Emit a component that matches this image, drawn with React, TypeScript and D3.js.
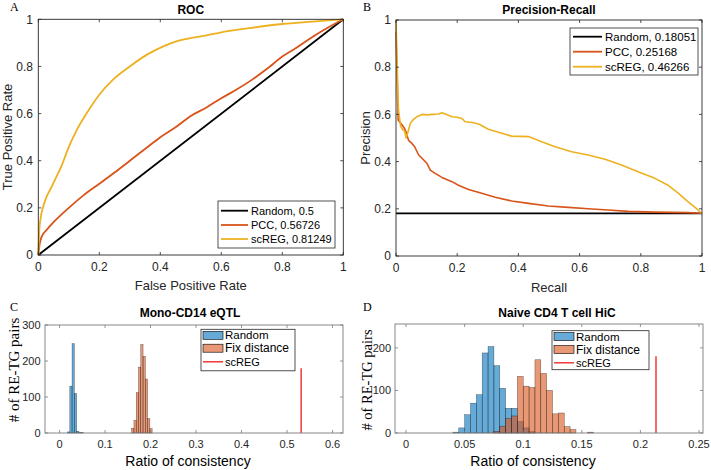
import React from "react";
import * as d3 from "d3";

// ---------- DATA ----------
const rocTicks = [0, 0.2, 0.4, 0.6, 0.8, 1];
const rocTickLabels = ["0", "0.2", "0.4", "0.6", "0.8", "1"];

const rocRandom: [number, number][] = [[0, 0], [1, 1]];
const rocPCC: [number, number][] = [
  [0, 0], [0.005, 0.05], [0.011, 0.078], [0.027, 0.106], [0.05, 0.14], [0.066, 0.16], [0.1, 0.2],
  [0.15, 0.255], [0.2, 0.302], [0.25, 0.35], [0.3, 0.4], [0.35, 0.45], [0.4, 0.5], [0.45, 0.542],
  [0.5, 0.59], [0.55, 0.625], [0.6, 0.665], [0.65, 0.702], [0.7, 0.743], [0.75, 0.79], [0.8, 0.842],
  [0.85, 0.882], [0.9, 0.926], [0.95, 0.965], [1, 1],
];
const rocScREG: [number, number][] = [
  [0, 0], [0.003, 0.1], [0.008, 0.16], [0.015, 0.2], [0.025, 0.24], [0.04, 0.28], [0.055, 0.32],
  [0.077, 0.38], [0.09, 0.425], [0.104, 0.47], [0.126, 0.53], [0.158, 0.6], [0.2, 0.68],
  [0.246, 0.745], [0.3, 0.8], [0.355, 0.849], [0.41, 0.885], [0.45, 0.905], [0.5, 0.92],
  [0.552, 0.932], [0.6, 0.945], [0.7, 0.964], [0.8, 0.98], [0.9, 0.99], [1, 1],
];
const rocLegend = ["Random, 0.5", "PCC, 0.56726", "scREG, 0.81249"];

const prRandomValue = 0.18051;
const prPCC: [number, number][] = [
  [0, 0.95], [0.003, 0.8], [0.007, 0.576], [0.02, 0.555], [0.028, 0.54], [0.033, 0.525], [0.041, 0.49],
  [0.052, 0.477], [0.061, 0.463], [0.074, 0.428], [0.085, 0.414], [0.101, 0.393], [0.112, 0.364],
  [0.128, 0.35], [0.15, 0.333], [0.183, 0.315], [0.204, 0.3], [0.237, 0.282], [0.28, 0.266],
  [0.324, 0.249], [0.378, 0.233], [0.433, 0.223], [0.498, 0.212], [0.563, 0.206], [0.628, 0.2],
  [0.693, 0.195], [0.759, 0.189], [0.846, 0.186], [0.954, 0.184], [1, 0.181],
];
const prScREG: [number, number][] = [
  [0, 1], [0.004, 0.8], [0.008, 0.62], [0.015, 0.55], [0.022, 0.535], [0.028, 0.53], [0.033, 0.5],
  [0.04, 0.53], [0.047, 0.562], [0.058, 0.58], [0.068, 0.59], [0.085, 0.6], [0.1, 0.598], [0.12, 0.6],
  [0.14, 0.602], [0.15, 0.607], [0.165, 0.6], [0.183, 0.59], [0.2, 0.588], [0.215, 0.583],
  [0.226, 0.569], [0.25, 0.566], [0.27, 0.559], [0.302, 0.537], [0.346, 0.52], [0.378, 0.508],
  [0.433, 0.506], [0.476, 0.484], [0.52, 0.463], [0.574, 0.442], [0.628, 0.428], [0.683, 0.41],
  [0.737, 0.386], [0.791, 0.357], [0.846, 0.329], [0.889, 0.3], [0.922, 0.266], [0.954, 0.23],
  [0.987, 0.195], [1, 0.18],
];
const prLegend = ["Random, 0.18051", "PCC, 0.25168", "scREG, 0.46266"];

// Panel C histograms (bin start, count), bin width 0.005
const cBinWidth = 0.005;
const cRandomBins = [0.0175, 0.0225, 0.0275, 0.0325, 0.0375, 0.0425, 0.0475];
const cRandomCounts = [3, 130, 248, 110, 5, 2, 1];
const cFixBins = [0.1585, 0.1635, 0.1685, 0.1735, 0.1785, 0.1835, 0.1885, 0.1935, 0.1985];
const cFixCounts = [13, 35, 112, 183, 246, 213, 150, 40, 12];
const cScREG = 0.531;
const cScREGHeight = 180;
const cTicksX = [0, 0.1, 0.2, 0.3, 0.4, 0.5, 0.6];
const cTickLabelsX = ["0", "0.1", "0.2", "0.3", "0.4", "0.5", "0.6"];
const cTicksY = [0, 100, 200, 300];

// Panel D histograms
const dBinWidth = 0.005;
const dRandomBins = [0.04, 0.045, 0.05, 0.055, 0.06, 0.065, 0.07, 0.075, 0.08, 0.085, 0.09, 0.095, 0.1, 0.105];
const dRandomCounts = [2, 12, 43, 70, 90, 188, 203, 158, 105, 58, 58, 27, 12, 3];
const dFixBins = [0.075, 0.08, 0.085, 0.09, 0.095, 0.1, 0.105, 0.11, 0.115, 0.12, 0.125, 0.13, 0.135, 0.14, 0.145, 0.15, 0.155];
const dFixCounts = [4, 16, 34, 40, 133, 110, 107, 172, 140, 100, 45, 47, 15, 8, 0, 0, 2];
const dScREG = 0.2133;
const dScREGHeight = 180;
const dTicksX = [0, 0.05, 0.1, 0.15, 0.2, 0.25];
const dTickLabelsX = ["0", "0.05", "0.1", "0.15", "0.2", "0.25"];
const dTicksY = [0, 100, 200];

const histLegend = ["Random", "Fix distance", "scREG"];

// ---------- STYLE ----------
const BLACK = "#000000";
const ORANGE = "#D95319";
const YELLOW = "#EDB120";
const BLUE = "#0072BD";
const RED = "#ee2b2b";
const AXIS = "#262626";
const SANS = "'Liberation Sans', Arial, Helvetica, sans-serif";
const SERIF = "'Liberation Serif', 'Times New Roman', serif";

type Scale = d3.ScaleLinear<number, number>;

function Frame({ x, y, ticksX, ticksY, labelsX, labelsY, fontSize, stroke, labelColor, xLabelY, yLabelX }: {
  x: Scale; y: Scale; ticksX: number[]; ticksY: number[]; labelsX: string[]; labelsY: string[];
  fontSize: number; stroke: string; labelColor: string; xLabelY: number; yLabelX: number;
}) {
  const [x0, x1] = x.range();
  const [y0, y1] = y.range();
  const tl = 3;
  return (
    <g>
      {ticksX.map((t, i) => (
        <g key={"x" + i}>
          <line x1={x(t)} x2={x(t)} y1={y0} y2={y0 - tl} stroke={stroke} strokeWidth={0.8} />
          <line x1={x(t)} x2={x(t)} y1={y1} y2={y1 + tl} stroke={stroke} strokeWidth={0.8} />
          <text x={x(t)} y={xLabelY} textAnchor="middle" fontSize={fontSize} fill={labelColor} fontFamily={SANS}>{labelsX[i]}</text>
        </g>
      ))}
      {ticksY.map((t, i) => (
        <g key={"y" + i}>
          <line x1={x0} x2={x0 + tl} y1={y(t)} y2={y(t)} stroke={stroke} strokeWidth={0.8} />
          <line x1={x1} x2={x1 - tl} y1={y(t)} y2={y(t)} stroke={stroke} strokeWidth={0.8} />
          <text x={yLabelX} y={y(t)} dy="0.35em" textAnchor="end" fontSize={fontSize} fill={labelColor} fontFamily={SANS}>{labelsY[i]}</text>
        </g>
      ))}
      <rect x={x0} y={y1} width={x1 - x0} height={y0 - y1} fill="none" stroke={stroke} strokeWidth={0.9} />
    </g>
  );
}

function LineLegend({ x, y, w, h, rowYs, labels, colors, fontSize, lineLen }: {
  x: number; y: number; w: number; h: number; rowYs: number[]; labels: string[]; colors: string[]; fontSize: number; lineLen: number;
}) {
  return (
    <g>
      <rect x={x} y={y} width={w} height={h} fill="#fff" stroke={AXIS} strokeWidth={0.8} />
      {labels.map((l, i) => (
        <g key={i}>
          <line x1={x + 3} x2={x + 3 + lineLen} y1={rowYs[i]} y2={rowYs[i]} stroke={colors[i]} strokeWidth={1.8} />
          <text x={x + 6 + lineLen} y={rowYs[i]} dy="0.35em" fontSize={fontSize} fontFamily={SANS} fill="#000">{l}</text>
        </g>
      ))}
    </g>
  );
}

function Hist({ x, y, bins, counts, width, color }: { x: Scale; y: Scale; bins: number[]; counts: number[]; width: number; color: string }) {
  return (
    <g>
      {bins.map((b, i) => counts[i] > 0 ? (
        <rect key={i} x={x(b)} y={y(counts[i])} width={x(b + width) - x(b)} height={y(0) - y(counts[i])}
          fill={color} fillOpacity={0.6} stroke="#000" strokeOpacity={0.55} strokeWidth={0.5} />
      ) : null)}
    </g>
  );
}

function HistLegend({ x, y, w, h, rowYs, patchW }: { x: number; y: number; w: number; h: number; rowYs: number[]; patchW: number }) {
  const colors = [BLUE, ORANGE];
  return (
    <g>
      <rect x={x} y={y} width={w} height={h} fill="#fff" stroke={AXIS} strokeWidth={0.8} />
      {[0, 1].map(i => (
        <rect key={i} x={x + 2} y={rowYs[i] - 4} width={patchW} height={8} fill={colors[i]} fillOpacity={0.6} stroke="#000" strokeWidth={0.6} />
      ))}
      <line x1={x + 2} x2={x + 2 + patchW} y1={rowYs[2]} y2={rowYs[2]} stroke={RED} strokeWidth={1.4} />
      <text x={x + 4 + patchW} y={rowYs[0]} dy="0.34em" fontSize={11.5} fontFamily={SANS}>{histLegend[0]}</text>
      <text x={x + 4 + patchW} y={rowYs[1]} dy="0.34em" fontSize={12} fontFamily={SANS}>{histLegend[1]}</text>
      <text x={x + 4 + patchW} y={rowYs[2]} dy="0.34em" fontSize={11} fontFamily={SANS}>{histLegend[2]}</text>
    </g>
  );
}

export default function App() {
  // Panel A
  const ax = d3.scaleLinear().domain([0, 1]).range([38.3, 343.3]);
  const ay = d3.scaleLinear().domain([0, 1]).range([255, 19.3]);
  const aLine = d3.line<[number, number]>().x(d => ax(d[0])).y(d => ay(d[1])).curve(d3.curveMonotoneX);

  // Panel B
  const bx = d3.scaleLinear().domain([0, 1]).range([396, 702]);
  const by = d3.scaleLinear().domain([0, 1]).range([256, 20]);
  const bLine = d3.line<[number, number]>().x(d => bx(d[0])).y(d => by(d[1]));

  // Panel C
  const cx = d3.scaleLinear().domain([-0.032, 0.623]).range([45, 343]);
  const cy = d3.scaleLinear().domain([0, 300]).range([433, 325]);

  // Panel D
  const dx = d3.scaleLinear().domain([-0.0094, 0.2534]).range([395, 703]);
  const dy = d3.scaleLinear().domain([0, 256]).range([433, 324]);

  const rocLabels = rocTickLabels;

  return (
    <svg width={711} height={470} style={{ position: "absolute", left: 0, top: 0, background: "#fff" }}>
      <rect x={0} y={0} width={711} height={470} fill="#fff" />

      {/* ---------- Panel A ---------- */}
      <text x={10} y={11} fontFamily={SERIF} fontSize={12} fill="#000">A</text>
      <text x={190.8} y={13.5} textAnchor="middle" fontFamily={SANS} fontWeight="bold" fontSize={12}>ROC</text>
      <g>
        <path d={aLine(rocRandom) || ""} fill="none" stroke={BLACK} strokeWidth={1.8} />
        <path d={aLine(rocPCC) || ""} fill="none" stroke={ORANGE} strokeWidth={1.8} strokeLinejoin="round" />
        <path d={aLine(rocScREG) || ""} fill="none" stroke={YELLOW} strokeWidth={1.8} strokeLinejoin="round" />
      </g>
      <Frame x={ax} y={ay} ticksX={rocTicks} ticksY={rocTicks} labelsX={rocLabels} labelsY={rocLabels}
        fontSize={12} stroke={AXIS} labelColor={AXIS} xLabelY={271} yLabelX={33} />
      <LineLegend x={218} y={201} w={117} h={47} rowYs={[210.7, 225, 239]} labels={rocLegend}
        colors={[BLACK, ORANGE, YELLOW]} fontSize={11} lineLen={27} />
      <text x={190.8} y={290} textAnchor="middle" fontFamily={SANS} fontSize={13} fill={AXIS}>False Positive Rate</text>
      <text transform={`translate(11.5, ${137})rotate(-90)`} textAnchor="middle" fontFamily={SANS} fontSize={13} fill={AXIS}>True Positive Rate</text>

      {/* ---------- Panel B ---------- */}
      <text x={363} y={11} fontFamily={SERIF} fontSize={12} fill="#000">B</text>
      <text x={549} y={13.5} textAnchor="middle" fontFamily={SANS} fontWeight="bold" fontSize={12}>Precision-Recall</text>
      <g>
        <line x1={bx(0)} x2={bx(1)} y1={by(prRandomValue)} y2={by(prRandomValue)} stroke={BLACK} strokeWidth={1.8} />
        <path d={bLine(prPCC) || ""} fill="none" stroke={ORANGE} strokeWidth={1.6} strokeLinejoin="round" />
        <path d={bLine(prScREG) || ""} fill="none" stroke={YELLOW} strokeWidth={1.6} strokeLinejoin="round" />
      </g>
      <Frame x={bx} y={by} ticksX={rocTicks} ticksY={rocTicks} labelsX={rocLabels} labelsY={rocLabels}
        fontSize={12} stroke={AXIS} labelColor={AXIS} xLabelY={272} yLabelX={391} />
      <LineLegend x={570} y={28} w={128} h={47} rowYs={[36.7, 51.7, 66.7]} labels={prLegend}
        colors={[BLACK, ORANGE, YELLOW]} fontSize={11.5} lineLen={29} />
      <text x={549} y={292} textAnchor="middle" fontFamily={SANS} fontSize={13} fill={AXIS}>Recall</text>
      <text transform={`translate(369.5, ${138})rotate(-90)`} textAnchor="middle" fontFamily={SANS} fontSize={13} fill={AXIS}>Precision</text>

      {/* ---------- Panel C ---------- */}
      <text x={10} y={311} fontFamily={SERIF} fontSize={12} fill="#000">C</text>
      <text x={190} y={317} textAnchor="middle" fontFamily={SANS} fontWeight="bold" fontSize={12}>Mono-CD14 eQTL</text>
      <Hist x={cx} y={cy} bins={cRandomBins} counts={cRandomCounts} width={cBinWidth} color={BLUE} />
      <Hist x={cx} y={cy} bins={cFixBins} counts={cFixCounts} width={cBinWidth} color={ORANGE} />
      <line x1={cx(cScREG)} x2={cx(cScREG)} y1={cy(0)} y2={cy(cScREGHeight)} stroke={RED} strokeWidth={1.4} />
      <Frame x={cx} y={cy} ticksX={cTicksX} ticksY={cTicksY} labelsX={cTickLabelsX} labelsY={cTicksY.map(String)}
        fontSize={11} stroke="#7a7a7a" labelColor={AXIS} xLabelY={448} yLabelX={40.5} />
      <HistLegend x={201} y={329.3} w={94} h={41.5} rowYs={[335.3, 348.2, 361.8]} patchW={20} />
      <text x={188} y={466} textAnchor="middle" fontFamily={SANS} fontSize={14} fill="#000">Ratio of consistency</text>
      <text transform={`translate(19, ${370})rotate(-90)`} textAnchor="middle" fontFamily={SERIF} fontSize={15} fill="#000"># of RE-TG pairs</text>

      {/* ---------- Panel D ---------- */}
      <text x={363} y={311} fontFamily={SERIF} fontSize={12} fill="#000">D</text>
      <text x={557} y={317} textAnchor="middle" fontFamily={SANS} fontWeight="bold" fontSize={12}>Naive CD4 T cell HiC</text>
      <Hist x={dx} y={dy} bins={dRandomBins} counts={dRandomCounts} width={dBinWidth} color={BLUE} />
      <Hist x={dx} y={dy} bins={dFixBins} counts={dFixCounts} width={dBinWidth} color={ORANGE} />
      <line x1={dx(dScREG)} x2={dx(dScREG)} y1={dy(0)} y2={dy(dScREGHeight)} stroke={RED} strokeWidth={1.4} />
      <Frame x={dx} y={dy} ticksX={dTicksX} ticksY={dTicksY} labelsX={dTickLabelsX} labelsY={dTicksY.map(String)}
        fontSize={11} stroke="#7a7a7a" labelColor={AXIS} xLabelY={448} yLabelX={391} />
      <HistLegend x={552} y={330.7} w={97} h={39} rowYs={[336.6, 349.5, 362.8]} patchW={20} />
      <text x={533} y={466} textAnchor="middle" fontFamily={SANS} fontSize={14} fill="#000">Ratio of consistency</text>
      <text transform={`translate(372, ${380})rotate(-90)`} textAnchor="middle" fontFamily={SERIF} fontSize={14.5} fill="#000"># of RE-TG pairs</text>
    </svg>
  );
}
